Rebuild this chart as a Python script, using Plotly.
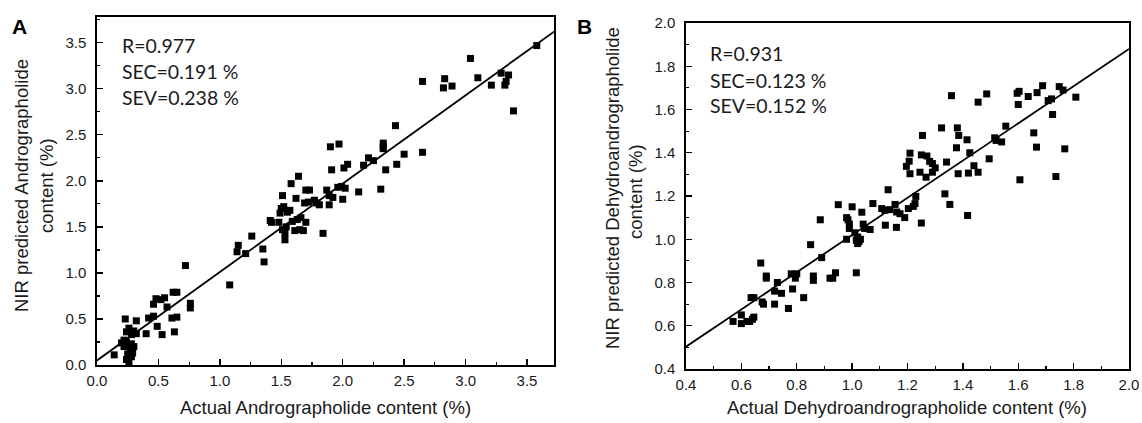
import plotly.graph_objects as go

# ---------------- Panel A data (Andrographolide) ----------------
a_actual = [
    0.14, 0.20, 0.22, 0.24, 0.26, 0.28, 0.30, 0.27, 0.25, 0.24, 0.26, 0.29, 0.22, 0.28,
    0.23, 0.24, 0.26, 0.28, 0.30, 0.32, 0.32,
    0.40, 0.42, 0.46, 0.49, 0.53,
    0.46, 0.48, 0.52, 0.55, 0.57,
    0.62, 0.65, 0.61, 0.65, 0.63,
    0.72, 0.76, 0.76,
    1.08, 1.14, 1.15, 1.21, 1.26, 1.35, 1.36,
    1.41, 1.42, 1.48, 1.49, 1.50, 1.52, 1.55, 1.57, 1.51,
    1.51, 1.53, 1.54, 1.53,
    1.59, 1.63, 1.66, 1.70, 1.61, 1.65, 1.68,
    1.58, 1.64, 1.62, 1.70, 1.73,
    1.69, 1.72, 1.77, 1.79, 1.81,
    1.84,
    1.87, 1.89, 1.92, 1.96, 1.99, 2.02, 1.89, 2.00,
    1.90, 1.97, 1.91, 2.01, 2.04,
    2.13, 2.17, 2.21, 2.25, 2.31, 2.35, 2.44, 2.50,
    2.33, 2.33, 2.33, 2.43, 2.65,
    2.65, 2.83, 2.82, 2.89, 3.04, 3.10, 3.21, 3.29, 3.35, 3.33, 3.32, 3.39, 3.58,
]
a_predicted = [
    0.11, 0.24, 0.20, 0.25, 0.22, 0.23, 0.20, 0.15, 0.12, 0.06, 0.03, 0.13, 0.27, 0.09,
    0.50, 0.36, 0.40, 0.33, 0.37, 0.34, 0.48,
    0.34, 0.51, 0.53, 0.42, 0.33,
    0.66, 0.72, 0.71, 0.73, 0.63,
    0.79, 0.79, 0.51, 0.52, 0.36,
    1.08, 0.67, 0.62,
    0.87, 1.23, 1.30, 1.21, 1.40, 1.26, 1.12,
    1.57, 1.55, 1.55, 1.65, 1.70, 1.72, 1.66, 1.68, 1.84,
    1.47, 1.43, 1.50, 1.36,
    1.56, 1.58, 1.60, 1.55, 1.46, 1.47, 1.46,
    1.97, 2.05, 1.81, 1.90, 1.90,
    1.76, 1.77, 1.79, 1.76, 1.74,
    1.43,
    1.90, 1.84, 1.82, 1.93, 1.94, 1.92, 1.74, 1.80,
    2.37, 2.40, 2.12, 2.14, 2.18,
    1.88, 2.17, 2.25, 2.22, 1.91, 2.12, 2.18, 2.29,
    2.41, 2.37, 2.35, 2.60, 2.31,
    3.08, 3.11, 3.01, 3.03, 3.33, 3.12, 3.04, 3.17, 3.15, 3.08, 3.04, 2.76, 3.47,
]
a_fit = [0.05, 0.96]           # intercept, slope
a_fit_x = [0.0, 3.72]
a_stats = ["R=0.977", "SEC=0.191 %", "SEV=0.238 %"]

# ---------------- Panel B data (Dehydroandrographolide) ----------------
b_actual = [
    0.57, 0.60, 0.60, 0.62, 0.63, 0.64, 0.645,
    0.635, 0.645, 0.67, 0.675, 0.68,
    0.69, 0.69, 0.72, 0.72, 0.73, 0.745, 0.77, 0.78, 0.785, 0.795, 0.80, 0.825,
    0.85, 0.86, 0.86, 0.885, 0.89, 0.92, 0.93, 0.94,
    0.95, 0.98, 0.98, 0.985, 0.99, 0.99, 1.00,
    1.015, 1.015, 1.02, 1.01, 1.02, 1.025, 1.03,
    1.035, 1.04, 1.045, 1.065, 1.075,
    1.107, 1.118, 1.136, 1.155, 1.161, 1.173, 1.19, 1.203, 1.221, 1.227, 1.23,
    1.12, 1.16, 1.25, 1.13,
    1.209, 1.206, 1.196, 1.209, 1.254, 1.25, 1.27, 1.28, 1.29, 1.30, 1.29, 1.245, 1.267,
    1.323, 1.341, 1.335, 1.353,
    1.359, 1.377, 1.38, 1.385, 1.415, 1.383, 1.42, 1.425, 1.44, 1.455, 1.417, 1.495,
    1.455, 1.486, 1.515, 1.52, 1.54, 1.555,
    1.596, 1.603, 1.60, 1.636, 1.668, 1.688, 1.708, 1.72, 1.748, 1.762, 1.808, 1.724,
    1.656, 1.666, 1.768, 1.606, 1.736,
]
b_predicted = [
    0.62, 0.65, 0.61, 0.62, 0.62, 0.63, 0.64,
    0.73, 0.73, 0.89, 0.71, 0.70,
    0.83, 0.82, 0.70, 0.76, 0.80, 0.75, 0.68, 0.84, 0.77, 0.82, 0.84, 0.73,
    0.975, 0.83, 0.81, 1.09, 0.915, 0.82, 0.82, 0.845,
    1.16, 1.00, 1.10, 1.09, 1.07, 1.05, 1.15,
    0.845, 0.995, 0.98, 1.03, 1.01, 0.99, 1.00,
    1.125, 1.07, 1.05, 1.045, 1.165,
    1.142, 1.134, 1.137, 1.161, 1.126, 1.118, 1.10, 1.142, 1.152, 1.165, 1.198,
    1.065, 1.055, 1.075, 1.229,
    1.398, 1.361, 1.337, 1.303, 1.48, 1.39, 1.385, 1.36, 1.35, 1.33, 1.31, 1.31, 1.287,
    1.515, 1.357, 1.21, 1.161,
    1.664, 1.423, 1.515, 1.48, 1.46, 1.303, 1.306, 1.40, 1.34, 1.31, 1.11, 1.372,
    1.634, 1.672, 1.469, 1.457, 1.45, 1.523,
    1.675, 1.684, 1.623, 1.66, 1.678, 1.71, 1.641, 1.649, 1.706, 1.69, 1.657, 1.577,
    1.492, 1.426, 1.418, 1.275, 1.29,
]
b_fit = [0.159, 0.8606]        # intercept, slope
b_fit_x = [0.4, 2.0]
b_stats = ["R=0.931", "SEC=0.123 %", "SEV=0.152 %"]

# ---------------- Figure ----------------
W, H = 1142, 423
TICK_FONT = dict(family="Liberation Sans, Arial, sans-serif", size=15, color="#1a1a1a")
TITLE_FONT = dict(family="Liberation Sans, Arial, sans-serif", size=18.5, color="#1a1a1a")
STAT_FONT = dict(family="Lato, sans-serif", size=19.5, color="#1a1a1a")

fig = go.Figure()

marker = dict(symbol="square", size=7, color="black", line=dict(width=0))
fig.add_trace(go.Scatter(x=a_actual, y=a_predicted, mode="markers", marker=marker,
                         xaxis="x", yaxis="y", showlegend=False))
fig.add_trace(go.Scatter(x=a_fit_x, y=[a_fit[0] + a_fit[1] * v for v in a_fit_x],
                         mode="lines", line=dict(color="black", width=1.8),
                         xaxis="x", yaxis="y", showlegend=False))
fig.add_trace(go.Scatter(x=b_actual, y=b_predicted, mode="markers", marker=marker,
                         xaxis="x2", yaxis="y2", showlegend=False))
fig.add_trace(go.Scatter(x=b_fit_x, y=[b_fit[0] + b_fit[1] * v for v in b_fit_x],
                         mode="lines", line=dict(color="black", width=1.8),
                         xaxis="x2", yaxis="y2", showlegend=False))


def axis(domain, rng, dtick, anchor, standoff):
    return dict(
        domain=domain, range=rng, dtick=dtick, tick0=0, tickformat=".1f",
        ticks="inside", ticklen=6, tickwidth=1.3, tickcolor="black",
        minor=dict(ticks="inside", ticklen=3, tickwidth=1.2, tickcolor="black", dtick=dtick / 2),
        showline=True, linecolor="black", linewidth=1.6, mirror=True,
        showgrid=False, zeroline=False, tickfont=TICK_FONT, anchor=anchor,
        ticklabelstandoff=standoff, automargin=False, fixedrange=True,
    )


def px_x(p):
    return p / W


def px_y(p):
    return 1 - p / H


fig.update_layout(
    width=W, height=H, margin=dict(l=0, r=0, t=0, b=0, autoexpand=False),
    paper_bgcolor="white", plot_bgcolor="white",
    xaxis=axis([px_x(97), px_x(554)], [0, 3.72], 0.5, "y", 1),
    yaxis=axis([px_y(365), px_y(17)], [0, 3.78], 0.5, "x", 6),
    xaxis2=axis([px_x(686), px_x(1129)], [0.4, 2.0], 0.2, "y2", 1),
    yaxis2=axis([px_y(369), px_y(23)], [0.4, 2.0], 0.2, "x2", 6),
)

ann = []
# panel letters
ann.append(dict(text="<b>A</b>", x=px_x(19), y=px_y(27), font=dict(family="Liberation Sans, Arial", size=21, color="black")))
ann.append(dict(text="<b>B</b>", x=px_x(584), y=px_y(27), font=dict(family="Liberation Sans, Arial", size=21, color="black")))
# x titles
ann.append(dict(text="Actual Andrographolide content (%)", x=px_x(325), y=px_y(407), font=TITLE_FONT))
ann.append(dict(text="Actual Dehydroandrographolide content (%)", x=px_x(907), y=px_y(407), font=TITLE_FONT))
# y titles
ann.append(dict(text="NIR predicted Andrographolide", x=px_x(21), y=px_y(186), textangle=-90, font=TITLE_FONT))
ann.append(dict(text="content (%)", x=px_x(46), y=px_y(186), textangle=-90, font=TITLE_FONT))
ann.append(dict(text="NIR predicted Dehydroandrographolide", x=px_x(612), y=px_y(188), textangle=-90, font=TITLE_FONT))
ann.append(dict(text="content (%)", x=px_x(635), y=px_y(192), textangle=-90, font=TITLE_FONT))
# stats text
for i, s in enumerate(a_stats):
    ann.append(dict(text=s, x=px_x(120), y=px_y(45 + 26 * i), xanchor="left", font=STAT_FONT))
for i, s in enumerate(b_stats):
    ann.append(dict(text=s, x=px_x(708), y=px_y(54 + 26 * i), xanchor="left", font=STAT_FONT))

for a in ann:
    a.setdefault("xanchor", "center")
    a.update(xref="paper", yref="paper", yanchor="middle", showarrow=False)
fig.update_layout(annotations=ann)

fig.write_html(
    "out.html",
    config={"displayModeBar": False, "staticPlot": True},
    post_script="document.body.style.margin='0px';document.body.style.overflow='hidden';",
)
